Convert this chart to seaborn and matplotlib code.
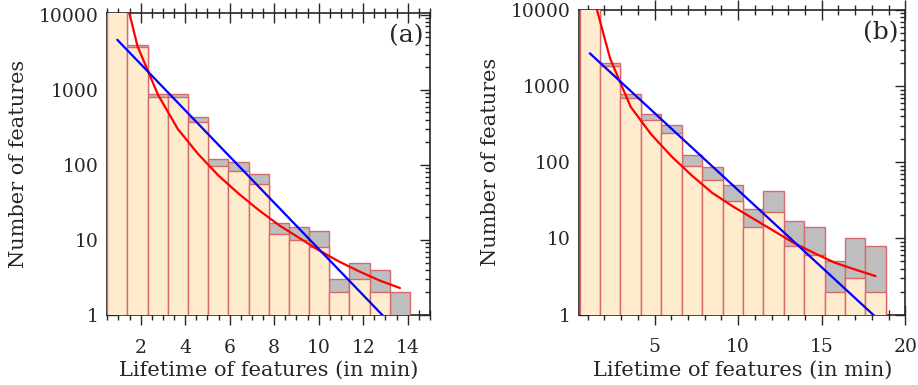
import numpy as np
import pandas as pd
import matplotlib
matplotlib.use('Agg')
import matplotlib.pyplot as plt
import matplotlib.ticker as mticker
import seaborn as sns

# ---- data ----
# bin centres (min)
lifetime_a = [0.95, 1.86, 2.77, 3.67, 4.58, 5.49, 6.39, 7.30, 8.21, 9.11, 10.02, 10.93, 11.83, 12.74, 13.65]
lifetime_b = [1.13, 2.35, 3.57, 4.79, 6.01, 7.24, 8.46, 9.68, 10.90, 12.12, 13.34, 14.56, 15.78, 17.00, 18.22]

# grey histogram (behind) and light orange histogram (front)
grey_a = [16000, 3980, 893, 893, 441, 121, 109, 76, 17, 15, 13, 3, 5, 4, 2]
orange_a = [15000, 3780, 815, 799, 371, 98, 84, 55, 12, 10, 8, 2, 3, 2, 0]
grey_b = [14000, 1987, 785, 429, 310, 123, 86, 50, 24, 42, 17, 14, 5, 10, 8]
orange_b = [13000, 1849, 702, 357, 246, 90, 58, 31, 14, 22, 8, 6, 2, 3, 2]

# red fitted curve at bin centres
red_a = [46800, 3800, 871, 300, 140, 72.4, 41.7, 25.1, 15.8, 10.7, 7.24, 5.13, 3.80, 2.88, 2.29]
red_b = [22400, 2290, 537, 234, 120, 66.8, 39.5, 26.4, 18.2, 12.6, 8.7, 6.4, 4.8, 3.9, 3.2]

# blue straight (exponential) fit, end points
blue_x_a = [0.95, 13.65]
blue_y_a = [4650, 0.57]
blue_x_b = [1.13, 18.22]
blue_y_b = [2700, 0.93]

YTICKS = [1, 10, 100, 1000, 10000]

sns.set_style('ticks')
plt.rcParams['font.family'] = ['DejaVu Serif']

ORANGE = '#ffebcd'
GREY = '#bebebe'
EDGE = '#d8696b'


def edges_from(centres):
    c = np.asarray(centres)
    half = (c[1] - c[0]) / 2
    return list(np.append(c - half, c[-1] + half))


def panel(ax, x, grey, orange, red, bx, by, xlim, ylim, major, minor, tag):
    ax.set_yscale('log')
    bins = edges_from(x)
    df = pd.DataFrame({'t': x, 'grey': grey, 'orange': orange, 'red': red})
    sns.histplot(data=df, x='t', weights='grey', bins=bins, ax=ax, color=GREY,
                 edgecolor=EDGE, linewidth=1, alpha=1, zorder=3)
    sns.histplot(data=df, x='t', weights='orange', bins=bins, ax=ax, color=ORANGE,
                 edgecolor=EDGE, linewidth=1, alpha=1, zorder=3)
    sns.lineplot(data=df, x='t', y='red', ax=ax, color='red', lw=1.6, zorder=5, sort=False)
    sns.lineplot(x=bx, y=by, ax=ax, color='blue', lw=1.6, zorder=5, sort=False)

    ax.set_xlim(*xlim)
    ax.set_ylim(*ylim)
    ax.xaxis.set_major_locator(mticker.MultipleLocator(major))
    ax.xaxis.set_minor_locator(mticker.MultipleLocator(minor))
    ax.yaxis.set_major_locator(mticker.FixedLocator(YTICKS))
    ax.yaxis.set_minor_locator(mticker.LogLocator(base=10, subs=np.arange(2, 10)))
    ax.yaxis.set_major_formatter(mticker.FuncFormatter(lambda v, p: '%d' % v))
    ax.yaxis.set_minor_formatter(mticker.NullFormatter())

    ax.tick_params(axis='x', which='both', direction='inout', top=True, bottom=True,
                   labelsize=13.5, pad=10)
    ax.tick_params(axis='x', which='major', length=14, width=1)
    ax.tick_params(axis='x', which='minor', length=7, width=1)
    ax.tick_params(axis='y', which='both', direction='in', left=True, right=True,
                   labelsize=13.5, pad=6)
    ax.tick_params(axis='y', which='major', length=7, width=1)
    ax.tick_params(axis='y', which='minor', length=3.5, width=1)
    for s in ax.spines.values():
        s.set_linewidth(1.2)

    ax.set_xlabel('Lifetime of features (in min)', fontsize=15, labelpad=3)
    ax.set_ylabel('Number of features', fontsize=15, labelpad=8)
    ax.text(0.98, 0.925, tag, transform=ax.transAxes, ha='right', va='center',
            fontsize=18, zorder=6)


fig = plt.figure(figsize=(9.18, 3.85), dpi=100)
ax1 = fig.add_axes([0.1169, 0.1818, 0.3515, 0.7837])
ax2 = fig.add_axes([0.6310, 0.1830, 0.3552, 0.7910])

panel(ax1, lifetime_a, grey_a, orange_a, red_a, blue_x_a, blue_y_a,
      (0.5, 15), (1, 10500), 2, 0.5, '(a)')
panel(ax2, lifetime_b, grey_b, orange_b, red_b, blue_x_b, blue_y_b,
      (0.5, 20), (1, 10000), 5, 1, '(b)')

fig.savefig('out.png', dpi=100)
